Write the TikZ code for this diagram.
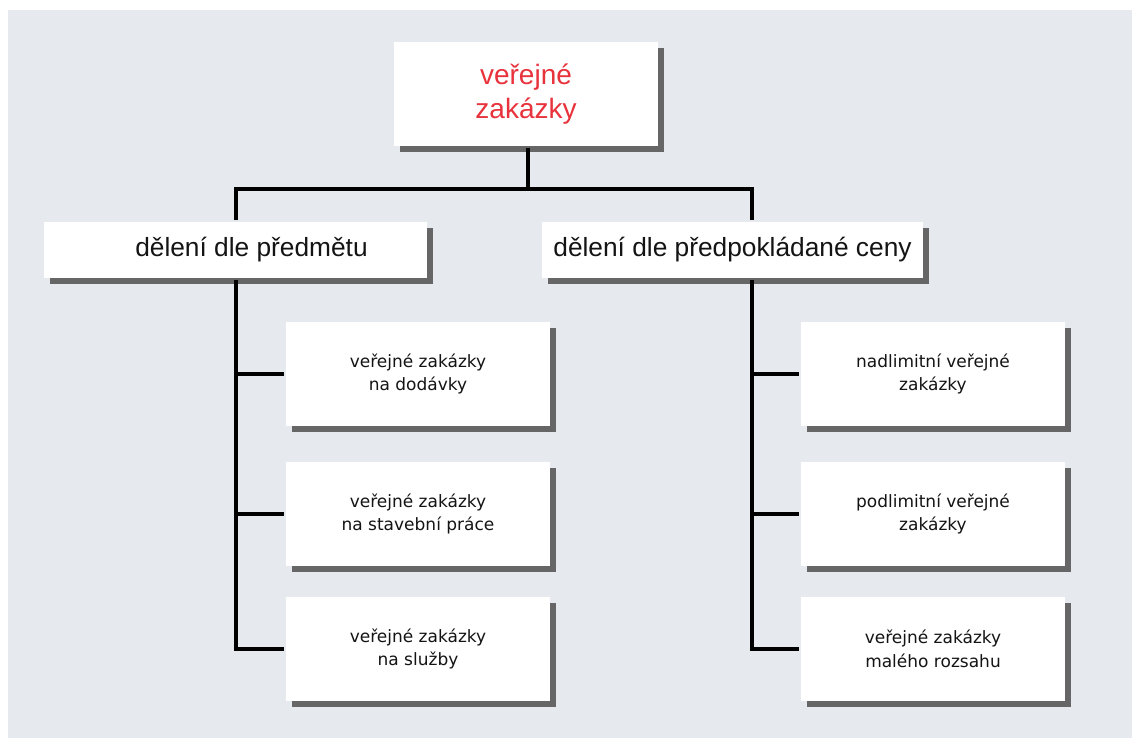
\documentclass[tikz,border=0pt]{standalone}
\usepackage{fontspec}
\setmainfont{Liberation Sans}
\newfontfamily\leaffont{DejaVu Sans}
\usetikzlibrary{shadows}
\definecolor{bg}{HTML}{E6E9EE}
\definecolor{shade}{HTML}{666666}
\definecolor{vzred}{HTML}{E8323C}
\definecolor{ink}{HTML}{141414}

\begin{document}
\begin{tikzpicture}[x=1pt, y=-1pt, line width=3.2pt,
	box/.style={fill=white, align=center, inner sep=0pt, text=ink,
		drop shadow={shadow xshift=6pt, shadow yshift=-6pt, fill=shade, opacity=1}},
	main/.style={box, minimum width=264pt, minimum height=104pt, text=vzred, font=\fontsize{28}{34}\selectfont},
	head/.style={box, minimum height=56pt, font=\fontsize{26.3}{30}\selectfont},
	leaf/.style={box, minimum width=264pt, minimum height=104pt, font=\leaffont\fontsize{17}{23.5}\selectfont}]
	\useasboundingbox (0,0) rectangle (1132,738);
	\fill [bg] (8,10) rectangle (1132,738);

	\node [main] (VZ) at (526,94) {veřejné\\zakázky};
	\node [head, minimum width=383pt] (P) at (235.5,250) {\hspace*{32pt}dělení dle předmětu};
	\node [head, minimum width=381pt] (C) at (732.5,250) {dělení dle předpokládané ceny};

	\node [leaf] (P1) at (418,374) {veřejné zakázky\\na dodávky};
	\node [leaf] (P2) at (418,514) {veřejné zakázky\\na stavební práce};
	\node [leaf] (P3) at (418,649) {veřejné zakázky\\na služby};
	\node [leaf] (C1) at (933,374) {nadlimitní veřejné\\zakázky};
	\node [leaf] (C2) at (933,514) {podlimitní veřejné\\zakázky};
	\node [leaf] (C3) at (933,649) {veřejné zakázky\\malého rozsahu};

	\coordinate (T) at (528,189);
	\coordinate (TP) at (236,189);
	\coordinate (TC) at (752,189);

	\draw (T |- VZ.south) -- (T);
	\draw (TP |- P.north) -- (TP) -- (TC) -- (TC |- C.north);
	\draw (TP |- P.south) |- (P3.west);
	\draw (TP |- P1.west) -- (P1.west);
	\draw (TP |- P2.west) -- (P2.west);
	\draw (TC |- C.south) |- (C3.west);
	\draw (TC |- C1.west) -- (C1.west);
	\draw (TC |- C2.west) -- (C2.west);
\end{tikzpicture}
\end{document}
